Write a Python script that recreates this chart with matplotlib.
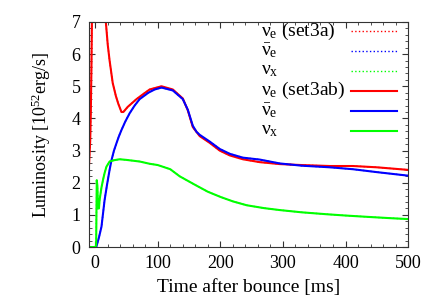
"""Neutrino luminosities after bounce (set3a vs set3ab)."""

import numpy as np
import matplotlib
matplotlib.use("Agg")
import matplotlib.pyplot as plt
from matplotlib.ticker import MultipleLocator

plt.rcParams['font.family'] = ['Liberation Serif', 'DejaVu Serif']
plt.rcParams['mathtext.fontset'] = 'custom'
plt.rcParams['mathtext.rm'] = 'Liberation Serif'
plt.rcParams['mathtext.it'] = 'Liberation Serif'
plt.rcParams['mathtext.bf'] = 'Liberation Serif:bold'

# electron neutrino (set3ab, solid red)
t_nue = [-10, -8, -7, -6, -5, -2, 2, 6, 10, 14, 17, 20, 23, 28, 33, 37, 42, 45,
         52, 66, 77, 87, 106, 124, 140, 148, 156, 167, 183, 199, 215, 236,
         263, 295, 330, 375, 412, 450, 500]
L_nue = [2.5, 3.3, 4.2, 5.6, 7.5, 12.0, 15.0, 12.0, 9.5, 7.8, 7.0, 6.3, 5.8,
         5.1, 4.7, 4.45, 4.2, 4.2, 4.36, 4.6, 4.76, 4.9, 5.0, 4.9, 4.62, 4.25,
         3.73, 3.45, 3.24, 3.0, 2.85, 2.73, 2.64, 2.58, 2.55, 2.52, 2.52, 2.48,
         2.4]

# electron anti-neutrino (set3ab, solid blue)
t_anue = [-10, 0, 2, 6, 10, 15, 19, 23, 26, 30, 34, 38, 42, 48, 55, 63, 71, 85,
          95, 106, 124, 140, 148, 156, 162, 167, 183, 199, 215, 236, 263, 295,
          330, 375, 412, 450, 500]
L_anue = [0.0, 0.0, 0.02, 0.3, 0.63, 1.46, 1.95, 2.4, 2.7, 3.0, 3.23, 3.45,
          3.64, 3.9, 4.16, 4.4, 4.6, 4.8, 4.9, 4.96, 4.87, 4.6, 4.27, 3.77,
          3.58, 3.49, 3.28, 3.05, 2.9, 2.78, 2.72, 2.6, 2.53, 2.48, 2.42, 2.33,
          2.22]

# heavy-lepton neutrino (set3ab, solid green)
t_nux = [-10, 0, 1.5, 2.5, 3.5, 4.5, 6, 7, 10, 12.5, 15, 18, 23, 30, 39, 50,
         71, 87, 100, 120, 135, 160, 180, 200, 220, 242, 270, 295, 330, 370,
         400, 434, 470, 500]
L_nux = [0.0, 0.0, 0.05, 2.08, 1.9, 1.2, 1.2, 1.46, 1.85, 2.09, 2.3, 2.5, 2.66,
         2.7, 2.73, 2.71, 2.66, 2.59, 2.55, 2.42, 2.2, 1.93, 1.72, 1.56, 1.42,
         1.3, 1.21, 1.15, 1.08, 1.02, 0.98, 0.94, 0.9, 0.87]

series = [
    (r'$\nu_e$ (set3a)', t_nue, L_nue, 'red', ':'),
    (r'$\bar{\nu}_e$', t_anue, L_anue, 'blue', ':'),
    (r'$\nu_x$', t_nux, L_nux, '#00ff00', ':'),
    (r'$\nu_e$ (set3ab)', t_nue, L_nue, 'red', '-'),
    (r'$\bar{\nu}_e$', t_anue, L_anue, 'blue', '-'),
    (r'$\nu_x$', t_nux, L_nux, '#00ff00', '-'),
]

fig = plt.figure(figsize=(4.36, 3.05), dpi=100)
ax = fig.add_axes([0.204, 0.19, 0.732, 0.738])

for label, t, L, color, ls in series:
    lw = 1.0 if ls == ':' else 1.5
    ax.plot(t, L, color=color, linestyle=ls, linewidth=lw)

ax.set_xlim(-10, 500)
ax.set_ylim(0, 7)
ax.xaxis.set_major_locator(MultipleLocator(100))
ax.xaxis.set_minor_locator(MultipleLocator(20))
ax.yaxis.set_major_locator(MultipleLocator(1))
ax.yaxis.set_minor_locator(MultipleLocator(0.2))
ax.tick_params(which='both', direction='in', top=True, right=True,
               labelsize=13, color='#333333')
ax.tick_params(which='major', length=4, pad=6)
ax.tick_params(which='minor', length=2)
for s in ax.spines.values():
    s.set_color('#333333')
    s.set_linewidth(0.8)

ax.set_xlabel('Time after bounce [ms]', fontsize=14, labelpad=5)
ax.set_ylabel(r'Luminosity [10$^{52}$erg/s]', fontsize=13, labelpad=13)

# gnuplot-style key: text left, sample line right
y0, dy = 0.96, 0.0888
for i, (label, t, L, color, ls) in enumerate(series):
    y = y0 - i * dy
    ax.text(0.54, y, label, transform=ax.transAxes, fontsize=14,
            va='center', ha='left')
    lw = 1.0 if ls == ':' else 1.5
    ax.plot([0.82, 0.966], [y, y], transform=ax.transAxes, color=color,
            linestyle=ls, linewidth=lw, clip_on=False)

fig.savefig('out.png', dpi=100)
